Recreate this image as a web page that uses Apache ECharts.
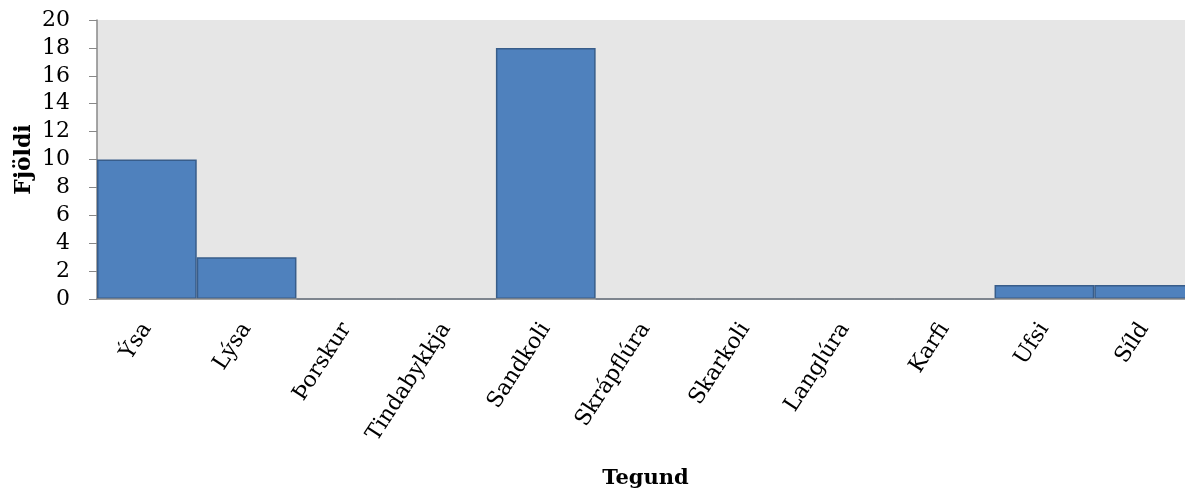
<!DOCTYPE html>
<html><head><meta charset="utf-8">
<script src="https://cdn.jsdelivr.net/npm/echarts@6/dist/echarts.min.js"></script>
<style>html,body{margin:0;padding:0;background:#fff}#c{width:1185px;height:495px}</style>
</head><body><div id="c"></div>
<script>
const categories = ['Ýsa','Lýsa','Þorskur','Tindabykkja','Sandkoli','Skrápflúra','Skarkoli','Langlúra','Karfi','Ufsi','Síld'];
const counts = [10, 3, 0, 0, 18, 0, 0, 0, 0, 1, 1];
const yTicks = { min: 0, max: 20, interval: 2 };
const FONT = 'DejaVu Serif';
const chart = echarts.init(document.getElementById('c'), null, {renderer:'canvas'});
chart.setOption({
  animation: false,
  grid: { left: 97, top: 20, right: -9, bottom: 196, containLabel: false, outerBoundsMode: 'none', show: true, backgroundColor: '#E6E6E6', borderWidth: 0 },
  xAxis: {
    type: 'category', data: categories, z: 3,
    name: 'Tegund', nameLocation: 'middle', nameGap: 169,
    nameTextStyle: { fontFamily: FONT, fontWeight: 'bold', fontSize: 21, color: '#000' },
    axisLine: { lineStyle: { color: '#888', width: 1.5 } },
    axisTick: { show: false },
    axisLabel: { rotate: 57, fontFamily: FONT, fontSize: 22, color: '#000', margin: 26, interval: 0 }
  },
  yAxis: {
    type: 'value', min: yTicks.min, max: yTicks.max, interval: yTicks.interval,
    name: 'Fjöldi', nameLocation: 'middle', nameGap: 62, nameMoveOverlap: false,
    nameTextStyle: { fontFamily: FONT, fontWeight: 'bold', fontSize: 22, color: '#000' },
    axisLine: { show: true, lineStyle: { color: '#888', width: 1.5 } },
    axisTick: { show: true, length: 8, lineStyle: { color: '#888' } },
    splitLine: { show: false },
    axisLabel: { fontFamily: FONT, fontSize: 22, color: '#000', margin: 27 }
  },
  series: [{
    type: 'bar', data: counts, barWidth: '100%',
    itemStyle: { color: '#4F81BD', borderColor: '#385D8A', borderWidth: 1.5 }
  }]
});
</script></body></html>
